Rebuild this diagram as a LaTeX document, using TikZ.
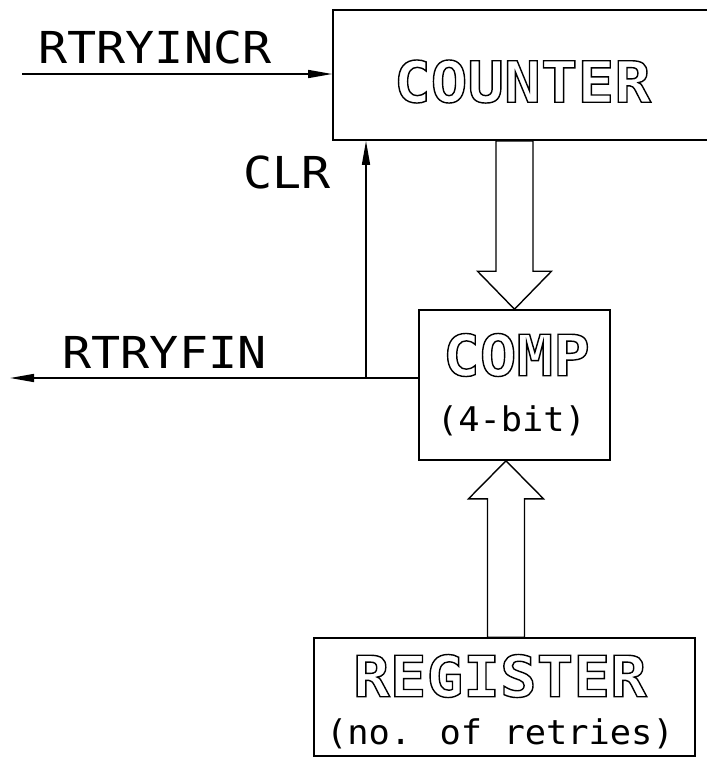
\documentclass[tikz,border=0pt]{standalone}
\usepackage{fontspec}
\usetikzlibrary{arrows.meta,calc}
\newfontfamily\labelfont[FakeStretch=1.1]{DejaVu Sans Mono}
\newfontfamily\bigfont[FakeStretch=1.07]{DejaVu Sans Mono}
\newfontfamily\notefont[FakeStretch=1.04]{DejaVu Sans Mono}
% outline (stroked, unfilled) text: PDF text render mode 1
\newcommand{\hollowtext}[1]{\special{pdf:literal direct 1 Tr 1.4 w}#1\special{pdf:literal direct 0 Tr}}
\tikzset{
  wire/.style={line width=1.5pt},
  sig/.style={wire,-{Triangle[length=24pt,width=8pt]}},
  blockbox/.style={draw,line width=1.6pt,inner sep=0pt},
  bus/.style={draw,line width=1.4pt,fill=white,line join=miter},
  siglabel/.style={font=\labelfont\fontsize{44}{44}\selectfont,inner sep=0pt},
  bigtext/.style={font=\bigfont\bfseries\fontsize{57}{57}\selectfont,inner sep=0pt},
  notetext/.style={font=\notefont\fontsize{34}{34}\selectfont,inner sep=0pt},
}
\begin{document}
\begin{tikzpicture}[x=1pt,y=-1pt]
\useasboundingbox (0,0) rectangle (707,766);
% blocks
\node[blockbox,minimum width=378pt,minimum height=130pt] (counter) at (522,75) {};
\node[blockbox,minimum width=191pt,minimum height=150pt] (comp) at (514.5,385) {};
\node[blockbox,minimum width=381pt,minimum height=118pt] (register) at (504.5,697) {};
% block texts
\node[bigtext] (countertext) at (522.5,81.5) {\hollowtext{COUNTER}};
\node[bigtext] (comptext) at (516.5,355) {\hollowtext{COMP}};
\node[notetext] (compnote) at (511.5,421) {(4-bit)};
\node[bigtext] (registertext) at (500,676) {\hollowtext{REGISTER}};
\node[notetext] (registernote) at (500,734) {(no. of retries)};
% down bus arrow counter -> comp
\coordinate (dtip) at (comp.north);
\coordinate (dR) at ($(dtip)+(18.5,-38)$);
\coordinate (dL) at ($(dtip)+(-18.5,-38)$);
\draw[bus] (dtip) -- ++(37,-38) -- (dR) -- (dR |- counter.south) -- (dL |- counter.south) -- (dL) -- ++(-18.5,0) -- cycle;
% up bus arrow register -> comp
\coordinate (utip) at ($(comp.south)+(-8.5,0)$);
\coordinate (uR) at ($(utip)+(18.5,38)$);
\coordinate (uL) at ($(utip)+(-18.5,38)$);
\draw[bus] (utip) -- ++(37.5,38) -- (uR) -- (uR |- register.north) -- (uL |- register.north) -- (uL) -- ++(-19,0) -- cycle;
% signals
\coordinate (incrstart) at (22,74);
\draw[sig] (incrstart) -- (incrstart -| counter.west);
\coordinate (finend) at (10,378);
\coordinate (junc) at (366,378);
\draw[sig] (finend -| comp.west) -- (finend);
\draw[sig] (junc) -- (junc |- counter.south);
% labels
\node[siglabel,anchor=base] (incrlabel) at (155,63) {RTRYINCR};
\node[siglabel,anchor=base] (clrlabel) at (287,188) {CLR};
\node[siglabel,anchor=base] (finlabel) at (164.5,368) {RTRYFIN};
\end{tikzpicture}
\end{document}
